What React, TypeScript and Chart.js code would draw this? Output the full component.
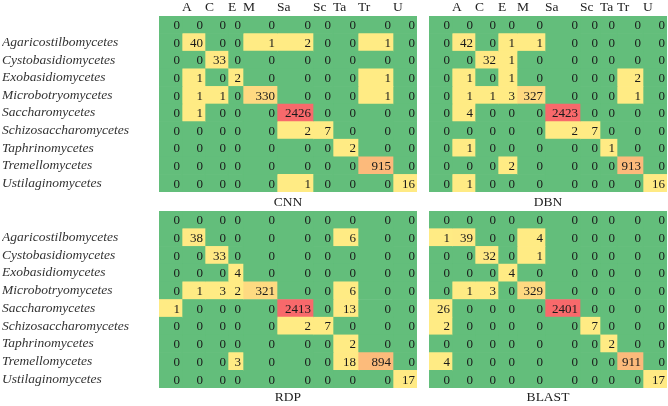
import React, { useEffect, useRef } from 'react';
import { Chart, registerables } from 'chart.js';

Chart.register(...registerables);

// ---------- data ----------
const ROW_LABELS = [
  '',
  'Agaricostilbomycetes',
  'Cystobasidiomycetes',
  'Exobasidiomycetes',
  'Microbotryomycetes',
  'Saccharomycetes',
  'Schizosaccharomycetes',
  'Taphrinomycetes',
  'Tremellomycetes',
  'Ustilaginomycetes',
];

const COL_LABELS = ['', 'A', 'C', 'E', 'M', 'Sa', 'Sc', 'Ta', 'Tr', 'U'];

const CNN_VALUES = [
  [0, 0, 0, 0, 0, 0, 0, 0, 0, 0],
  [0, 40, 0, 0, 1, 2, 0, 0, 1, 0],
  [0, 0, 33, 0, 0, 0, 0, 0, 0, 0],
  [0, 1, 0, 2, 0, 0, 0, 0, 1, 0],
  [0, 1, 1, 0, 330, 0, 0, 0, 1, 0],
  [0, 1, 0, 0, 0, 2426, 0, 0, 0, 0],
  [0, 0, 0, 0, 0, 2, 7, 0, 0, 0],
  [0, 0, 0, 0, 0, 0, 0, 2, 0, 0],
  [0, 0, 0, 0, 0, 0, 0, 0, 915, 0],
  [0, 0, 0, 0, 0, 1, 0, 0, 0, 16],
];

const DBN_VALUES = [
  [0, 0, 0, 0, 0, 0, 0, 0, 0, 0],
  [0, 42, 0, 1, 1, 0, 0, 0, 0, 0],
  [0, 0, 32, 1, 0, 0, 0, 0, 0, 0],
  [0, 1, 0, 1, 0, 0, 0, 0, 2, 0],
  [0, 1, 1, 3, 327, 0, 0, 0, 1, 0],
  [0, 4, 0, 0, 0, 2423, 0, 0, 0, 0],
  [0, 0, 0, 0, 0, 2, 7, 0, 0, 0],
  [0, 1, 0, 0, 0, 0, 0, 1, 0, 0],
  [0, 0, 0, 2, 0, 0, 0, 0, 913, 0],
  [0, 1, 0, 0, 0, 0, 0, 0, 0, 16],
];

const RDP_VALUES = [
  [0, 0, 0, 0, 0, 0, 0, 0, 0, 0],
  [0, 38, 0, 0, 0, 0, 0, 6, 0, 0],
  [0, 0, 33, 0, 0, 0, 0, 0, 0, 0],
  [0, 0, 0, 4, 0, 0, 0, 0, 0, 0],
  [0, 1, 3, 2, 321, 0, 0, 6, 0, 0],
  [1, 0, 0, 0, 0, 2413, 0, 13, 0, 0],
  [0, 0, 0, 0, 0, 2, 7, 0, 0, 0],
  [0, 0, 0, 0, 0, 0, 0, 2, 0, 0],
  [0, 0, 0, 3, 0, 0, 0, 18, 894, 0],
  [0, 0, 0, 0, 0, 0, 0, 0, 0, 17],
];

const BLAST_VALUES = [
  [0, 0, 0, 0, 0, 0, 0, 0, 0, 0],
  [1, 39, 0, 0, 4, 0, 0, 0, 0, 0],
  [0, 0, 32, 0, 1, 0, 0, 0, 0, 0],
  [0, 0, 0, 4, 0, 0, 0, 0, 0, 0],
  [0, 1, 3, 0, 329, 0, 0, 0, 0, 0],
  [26, 0, 0, 0, 0, 2401, 0, 0, 0, 0],
  [2, 0, 0, 0, 0, 0, 7, 0, 0, 0],
  [0, 0, 0, 0, 0, 0, 0, 2, 0, 0],
  [4, 0, 0, 0, 0, 0, 0, 0, 911, 0],
  [0, 0, 0, 0, 0, 0, 0, 0, 0, 17],
];

// ---------- layout / style ----------
const LEFT_COL_WIDTHS = [23, 23, 23, 15, 34, 36, 20, 25, 35, 24];
const RIGHT_COL_WIDTHS = [23, 23, 23, 19, 28, 35, 20, 17, 26, 24];

const FONT = '"Liberation Serif", "Times New Roman", serif';
const GREEN = [99, 190, 123];
const YELLOW = [255, 235, 132];
const RED = [248, 105, 107];

function cellColor(v: number, max: number): string {
  if (v <= 0) return `rgb(${GREEN.join(',')})`;
  const t = Math.min(1, v / max);
  const c = YELLOW.map((y, k) => Math.round(y + (RED[k] - y) * t));
  return `rgb(${c.join(',')})`;
}

function makeCellTextPlugin(values: number[][]) {
  return {
    id: 'cellText',
    afterDatasetsDraw(chart: any) {
      const ctx = chart.ctx;
      ctx.save();
      ctx.font = `13px ${FONT}`;
      ctx.fillStyle = '#1a1a1a';
      ctx.textAlign = 'right';
      ctx.textBaseline = 'middle';
      chart.data.datasets.forEach((_: any, j: number) => {
        const meta = chart.getDatasetMeta(j);
        meta.data.forEach((el: any, i: number) => {
          const p = el.getProps(['x', 'y', 'base'], true);
          ctx.fillText(String(values[i][j]), Math.max(p.x, p.base) - 2, p.y + 1);
        });
      });
      ctx.restore();
    },
  };
}

function zeroPadding(s: any) {
  s.paddingTop = 0;
  s.paddingBottom = 0;
  s.paddingLeft = 0;
  s.paddingRight = 0;
}

type PanelProps = {
  title: string;
  values: number[][];
  widths: number[];
  showRows: boolean;
  showHeaders: boolean;
  left: number;
  top: number;
  width: number;
  height: number;
  bottomAxis: number;
};

function Panel(props: PanelProps) {
  const ref = useRef<HTMLCanvasElement>(null);
  useEffect(() => {
    const { title, values, widths, showRows, showHeaders, bottomAxis } = props;
    const max = Math.max(...values.map((r) => Math.max(...r)));
    const total = widths.reduce((a, b) => a + b, 0);
    const starts = widths.map((_, j) => widths.slice(0, j).reduce((a, b) => a + b, 0));

    const datasets = widths.map((w, j) => ({
      label: COL_LABELS[j] || 'unassigned',
      data: ROW_LABELS.map(() => w),
      backgroundColor: values.map((row) => cellColor(row[j], max)),
      borderWidth: 0,
      barPercentage: 1,
      categoryPercentage: 1,
      stack: 'cells',
      xAxisID: 'x',
      yAxisID: 'y',
    }));

    const scales: any = {
      x: {
        type: 'linear',
        position: 'bottom',
        stacked: true,
        min: 0,
        max: total,
        grid: { display: false, drawTicks: false },
        border: { display: false },
        ticks: { display: false },
        title: {
          display: true,
          text: title,
          color: '#222',
          font: { family: FONT, size: 13.5 },
          padding: 0,
        },
        afterFit: (s: any) => {
          s.height = bottomAxis;
          zeroPadding(s);
        },
      },
      y: {
        type: 'category',
        position: 'left',
        stacked: true,
        display: showRows,
        grid: { display: false, drawTicks: false },
        border: { display: false },
        ticks: {
          autoSkip: false,
          crossAlign: 'far',
          padding: 0,
          color: '#333',
          font: { family: FONT, size: 13.5, style: 'italic' },
        },
        afterFit: (s: any) => {
          s.width = showRows ? 157 : 0;
          zeroPadding(s);
        },
      },
    };
    if (showHeaders) {
      scales.xTop = {
        type: 'linear',
        position: 'top',
        min: 0,
        max: total,
        grid: { display: false, drawTicks: false },
        border: { display: false },
        afterBuildTicks: (s: any) => {
          s.ticks = starts.slice(1).map((v) => ({ value: v }));
        },
        ticks: {
          autoSkip: false,
          maxRotation: 0,
          minRotation: 0,
          align: 'start',
          padding: 0,
          color: '#222',
          font: { family: FONT, size: 13.5 },
          callback: (_v: any, i: number) => COL_LABELS[i + 1],
        },
        afterFit: (s: any) => {
          s.height = 16;
          zeroPadding(s);
        },
      };
    }

    const chart = new Chart(ref.current as HTMLCanvasElement, {
      type: 'bar',
      data: { labels: ROW_LABELS, datasets } as any,
      options: {
        indexAxis: 'y',
        responsive: false,
        animation: false,
        devicePixelRatio: 1,
        layout: {
          padding: { left: showRows ? 2 : 0, right: 0, top: 0, bottom: 0 },
          autoPadding: false,
        },
        plugins: {
          legend: { display: false },
          tooltip: { enabled: false },
        },
        scales,
      } as any,
      plugins: [makeCellTextPlugin(values)],
    });
    return () => chart.destroy();
  }, []);

  return (
    <canvas
      ref={ref}
      width={props.width}
      height={props.height}
      style={{
        position: 'absolute',
        left: props.left,
        top: props.top,
        width: props.width,
        height: props.height,
        display: 'block',
      }}
    />
  );
}

export default function App() {
  return (
    <div
      style={{
        position: 'absolute',
        left: 0,
        top: 0,
        width: 668,
        height: 406,
        background: '#ffffff',
        overflow: 'hidden',
      }}
    >
      <Panel title="CNN" values={CNN_VALUES} widths={LEFT_COL_WIDTHS} showRows showHeaders
        left={0} top={0} width={417} height={211} bottomAxis={19} />
      <Panel title="DBN" values={DBN_VALUES} widths={RIGHT_COL_WIDTHS} showRows={false} showHeaders
        left={429} top={0} width={238} height={211} bottomAxis={19} />
      <Panel title="RDP" values={RDP_VALUES} widths={LEFT_COL_WIDTHS} showRows showHeaders={false}
        left={0} top={211} width={417} height={195} bottomAxis={18} />
      <Panel title="BLAST" values={BLAST_VALUES} widths={RIGHT_COL_WIDTHS} showRows={false} showHeaders={false}
        left={429} top={211} width={238} height={195} bottomAxis={18} />
    </div>
  );
}
